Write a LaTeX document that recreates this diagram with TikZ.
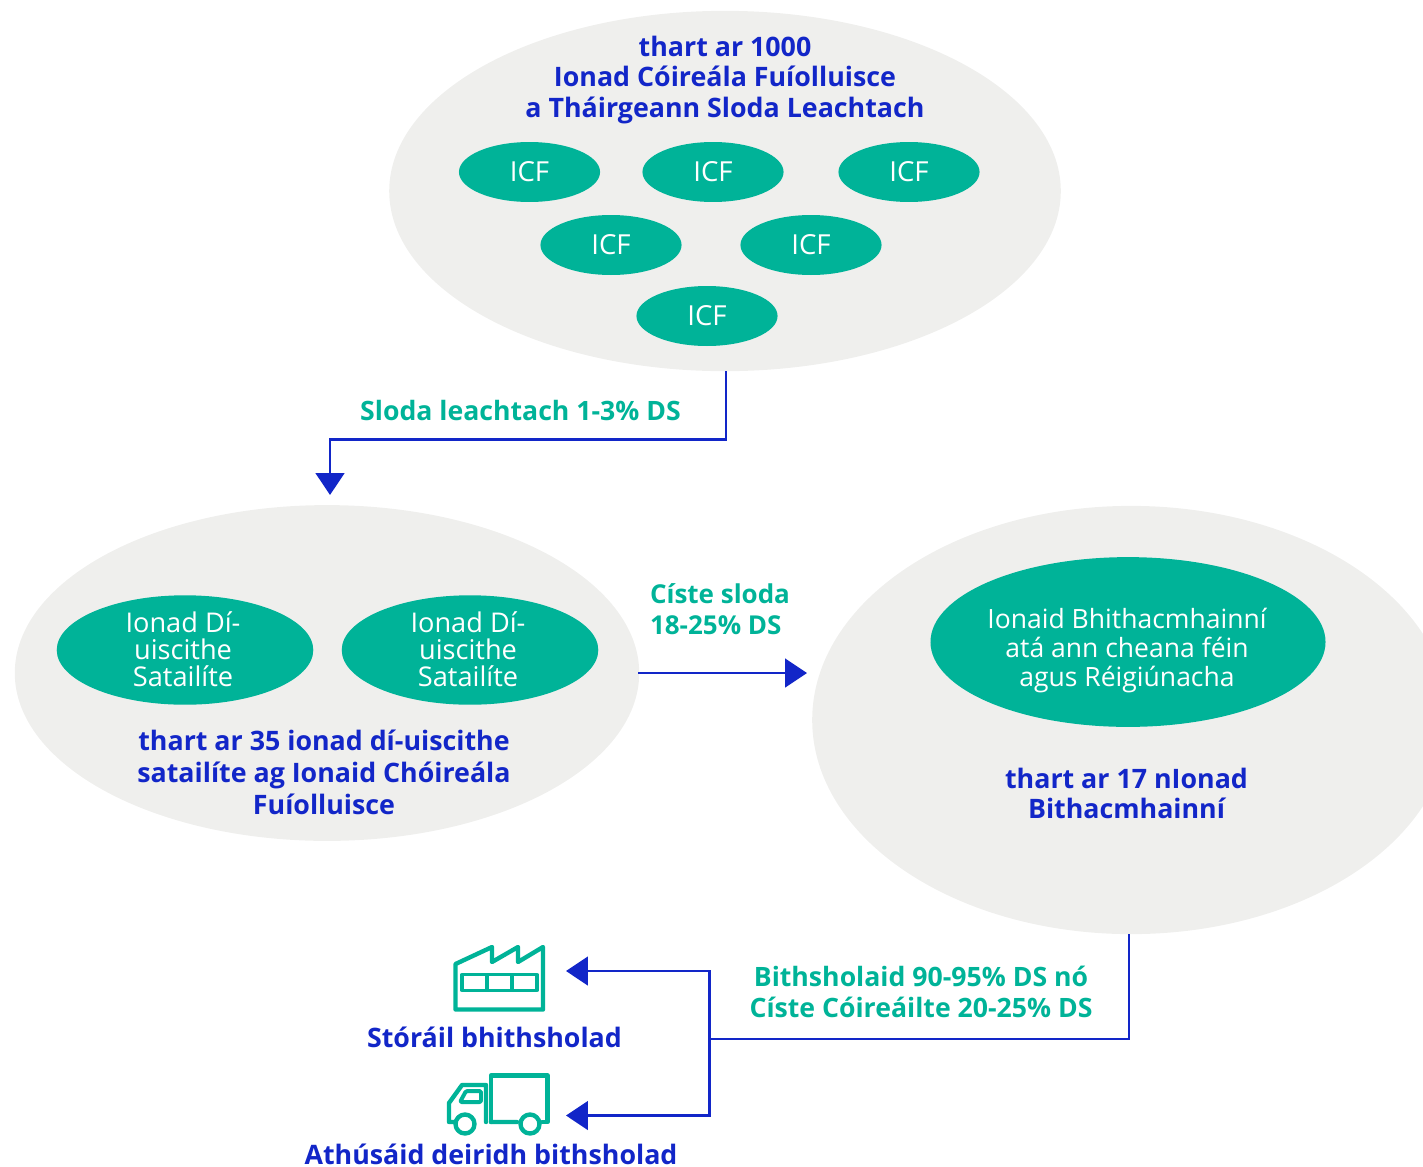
\documentclass[tikz,border=0pt]{standalone}
\usepackage{fontspec}
\setmainfont{Open Sans}
\usetikzlibrary{shapes.geometric, positioning, arrows.meta}
\definecolor{palegrey}{HTML}{EFEFED}
\definecolor{teal}{HTML}{00B398}
\definecolor{navy}{HTML}{1226C8}
\tikzset{
  cloud/.style={ellipse,fill=palegrey,inner sep=0pt},
  site/.style={ellipse,fill=teal,text=white,inner sep=0pt,align=center},
  sitetext/.style={text=white,inner sep=0pt,align=center},
  icf/.style={site,minimum width=3.74cm,minimum height=1.59cm,font=\fontsize{20.8}{25}\selectfont},
  title/.style={text=navy,align=center,font=\fontsize{20.2}{23}\selectfont\bfseries},
  flow/.style={text=teal,align=center,font=\fontsize{20.1}{23.3}\selectfont\bfseries},
  pipe/.style={draw=navy,line width=1.6pt},
  tip/.style={pipe,-{Triangle[length=0.58cm,width=0.76cm]}},
  icon/.style={draw=teal,line width=3.3pt,line join=round}
}
\begin{document}
\begin{tikzpicture}[x=0.0265cm,y=-0.0265cm]
  \useasboundingbox (0,0) rectangle (1423,1166);

  % top group
  \node[cloud,minimum width=17.8cm,minimum height=9.55cm] (top) at (725,191) {};
  \node[title] (toptitle) at (725,80) {thart ar 1000\\Ionad Cóireála Fuíolluisce\\a Tháirgeann Sloda Leachtach};
  \node[icf] (icfa) at (529.5,172) {ICF};
  \node[icf] (icfb) at (713,172) {ICF};
  \node[icf] (icfc) at (909,172) {ICF};
  \node[icf] (icfd) at (611,245) {ICF};
  \node[icf] (icfe) at (811,245) {ICF};
  \node[icf] (icff) at (707,316) {ICF};

  % left group
  \node[cloud,minimum width=16.55cm,minimum height=8.9cm] (left) at (327,673) {};
  \node[site,minimum width=6.8cm,minimum height=2.9cm] (sata) at (185,650) {};
  \node[site,minimum width=6.8cm,minimum height=2.9cm] (satb) at (470,650) {};
  \node[sitetext,font=\fontsize{20.5}{20.4}\selectfont] (satatext) at (183,649.5) {Ionad Dí-\\uiscithe\\Satailíte};
  \node[sitetext,font=\fontsize{20.5}{20.4}\selectfont] (satbtext) at (468,649.5) {Ionad Dí-\\uiscithe\\Satailíte};
  \node[title,font=\fontsize{20.2}{24}\selectfont\bfseries] (lefttitle) at (324,772.5) {thart ar 35 ionad dí-uiscithe\\satailíte ag Ionaid Chóireála\\Fuíolluisce};

  % right group
  \node[cloud,minimum width=16.9cm,minimum height=11.35cm] (right) at (1131,720) {};
  \node[site,minimum width=10.47cm,minimum height=4.5cm] (bio) at (1128,642) {};
  \node[sitetext,font=\fontsize{20}{22.2}\selectfont] (biotext) at (1127,650.5) {Ionaid Bhithacmhainní\\atá ann cheana féin\\agus Réigiúnacha};
  \node[title] (righttitle) at (1126.5,793.5) {thart ar 17 nIonad\\Bithacmhainní};

  % flows
  \coordinate (slodatip) at (330,495);
  \coordinate (cistetip) at (807,673);
  \coordinate (storetip) at (566,971);
  \coordinate (reusetip) at (566,1115.5);
  \coordinate (split) at (709.5,1039);
  \draw[tip] (top.south -| 726,0) |- (330,439.5) -- (slodatip);
  \draw[tip] (638,673) -- (cistetip);
  \draw[pipe] (right.south -| 1129,0) |- (split);
  \draw[tip] (split) |- (storetip);
  \draw[tip] (split) |- (reusetip);
  \node[flow] (slodalabel) at (520.5,410.5) {Sloda leachtach 1-3\% DS};
  \node[flow,align=left,font=\fontsize{19.6}{23.3}\selectfont\bfseries] (cistelabel) at (720,609.5) {Císte sloda\\18-25\% DS};
  \node[flow] (biolabel) at (921,992) {Bithsholaid 90-95\% DS nó\\Císte Cóireáilte 20-25\% DS};

  % factory
  \draw[icon] (455.5,1009.5) -- (455.5,964) -- (492,947) -- (492,962) -- (518,947) -- (518,962) -- (543,947) -- (543,1009.5) -- cycle;
  \draw[icon,line width=2.3pt] (462,974.5) rectangle (537,990.5) (487,974.5) -- (487,990.5) (512,974.5) -- (512,990.5);
  \node[title] (storelabel) at (494.5,1037) {Stóráil bhithsholad};

  % lorry
  \draw[icon,line cap=round] (491,1122) -- (491,1075.5) -- (547.5,1075.5) -- (547.5,1122) -- (542,1122);
  \draw[icon,line cap=round] (517,1122) -- (491,1122) (486,1122) -- (486,1085) -- (462,1085) -- (449,1103) -- (449,1122) -- (454,1122);
  \draw[icon,line width=3pt,rounded corners=1pt] (466,1091) -- (481,1091) -- (481,1102) -- (460,1102) -- cycle;
  \draw[icon] (465,1124) circle (9.5) (530,1124) circle (9.5);
  \node[title] (reuselabel) at (491,1154.5) {Athúsáid deiridh bithsholad};
\end{tikzpicture}
\end{document}
